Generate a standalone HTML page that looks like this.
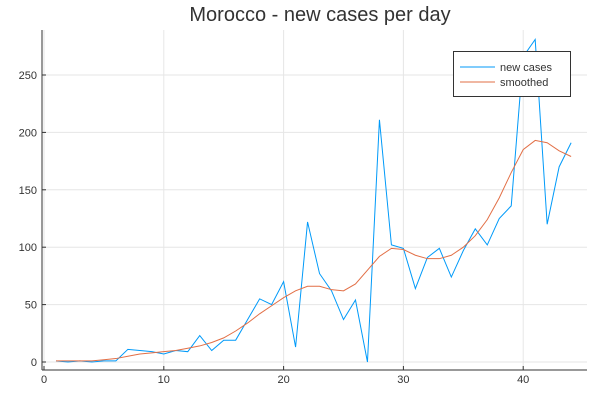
<!DOCTYPE html>
<html><head><meta charset="utf-8"><style>
body{margin:0;background:#fff;font-family:"Liberation Sans",sans-serif}
svg text{font-family:"Liberation Sans",sans-serif}
</style></head><body>
<svg id="chart" width="600" height="400">
<text x="320" y="21" text-anchor="middle" font-size="20" fill="#333">Morocco - new cases per day</text>
<g id="grid"></g><g id="axes"></g><g id="series"></g>
<g>
<rect x="453.5" y="51.5" width="117" height="45" fill="#fff" stroke="#333"/>
<line x1="460" y1="67" x2="495" y2="67" stroke="#009af9"/>
<text x="500" y="71" font-size="11" fill="#333">new cases</text>
<line x1="460" y1="82" x2="495" y2="82" stroke="#e26f46"/>
<text x="500" y="86" font-size="11" fill="#333">smoothed</text>
</g>
</svg>
<script>
const days=[1,2,3,4,5,6,7,8,9,10,11,12,13,14,15,16,17,18,19,20,21,22,23,24,25,26,27,28,29,30,31,32,33,34,35,36,37,38,39,40,41,42,43,44];
const newCases=[1,0,1,0,1,1,11,10,9,7,10,9,23,10,19,19,37,55,50,70,13,122,77,62,37,54,0,211,102,99,64,91,99,74,97,116,102,125,136,266,281,120,170,191];
const smoothed=[1,1,1,1,2,3,5,7,8,9,10,12,14,17,21,27,34,42,49,56,62,66,66,63,62,68,80,92,99,98,93,90,90,93,100,110,124,143,165,185,193,191,184,179];
const xTicks=[0,10,20,30,40];
const yTicks=[0,50,100,150,200,250];
const NS='http://www.w3.org/2000/svg';
const L=42,R=587,T=30,B=370;
const sx=v=>44+v*11.98;
const sy=v=>362-v*1.148;
function mk(tag,attrs,parent){const e=document.createElementNS(NS,tag);for(const k in attrs)e.setAttribute(k,attrs[k]);parent.appendChild(e);return e;}
const grid=document.getElementById('grid'),axes=document.getElementById('axes'),series=document.getElementById('series');
xTicks.forEach(t=>{
 const g=mk('line',{x1:sx(t),x2:sx(t),y1:T,y2:B,stroke:'#e6e6e6'},grid);
 
 
 mk('line',{x1:sx(t),x2:sx(t),y1:B,y2:B-4,stroke:'#333'},axes);
 const tx=mk('text',{x:sx(t),y:B+13,'text-anchor':'middle','font-size':11,fill:'#333'},axes);
 tx.textContent=t;
 
 
});
yTicks.forEach(t=>{
 const g=mk('line',{x1:L,x2:R,y1:sy(t),y2:sy(t),stroke:'#e6e6e6'},grid);
 
 
 mk('line',{x1:L,x2:L+4,y1:sy(t),y2:sy(t),stroke:'#333'},axes);
 const tx=mk('text',{x:L-5,y:sy(t)+4,'text-anchor':'end','font-size':11,fill:'#333'},axes);
 tx.textContent=t;
 
 
});
const xa=mk('line',{x1:L,x2:R,y1:B,y2:B,stroke:'#333'},axes);


const ya=mk('line',{x1:L,x2:L,y1:T,y2:B,stroke:'#333'},axes);


const p1=mk('polyline',{points:days.map((d,i)=>sx(d)+','+sy(newCases[i])).join(' '),fill:'none',stroke:'#009af9','stroke-width':1},series);


const p2=mk('polyline',{points:days.map((d,i)=>sx(d)+','+sy(smoothed[i])).join(' '),fill:'none',stroke:'#e26f46','stroke-width':1},series);


</script>
</body></html>
